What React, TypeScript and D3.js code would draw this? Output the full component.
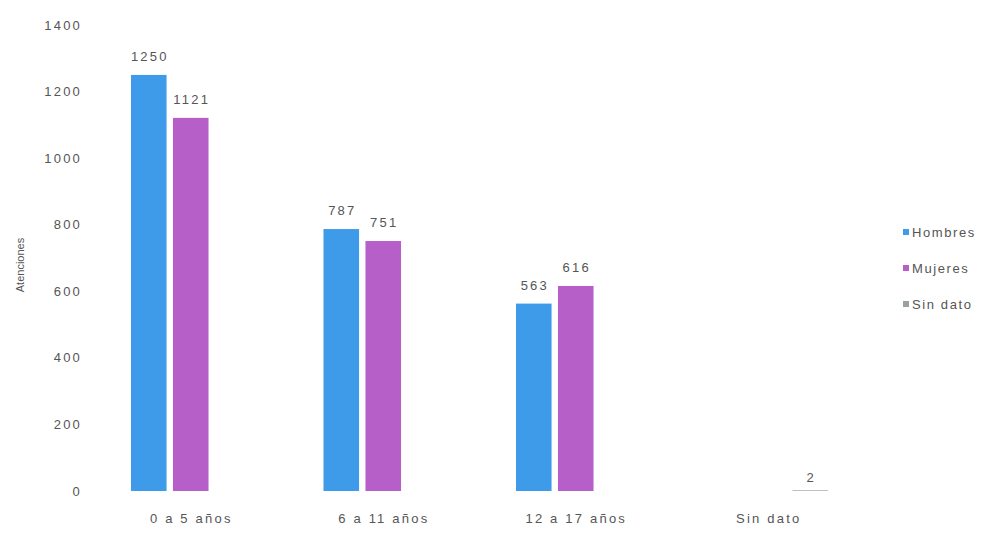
import * as d3 from "d3";

const categories = ["0 a 5 años", "6 a 11 años", "12 a 17 años", "Sin dato"];
const seriesNames = ["Hombres", "Mujeres", "Sin dato"];
const hombres = [1250, 787, 563, 0];
const mujeres = [1121, 751, 616, 0];
const sinDato = [0, 0, 0, 2];
const yTicks = [0, 200, 400, 600, 800, 1000, 1200, 1400];
const seriesColors = ["#3d9be9", "#b65fc9", "#9aa39a"];

const width = 1004;
const height = 536;
const margin = { top: 25, right: 140, bottom: 45, left: 94 };
const font = "'Liberation Sans', Arial, sans-serif";
const textColor = "#555";
const spacing = "2.2px";

export default function App() {
  const values = [hombres, mujeres, sinDato];

  const x = d3
    .scaleBand()
    .domain(categories)
    .range([margin.left, width - margin.right])
    .padding(0);

  const xInner = d3
    .scaleBand()
    .domain(seriesNames)
    .range([37, x.bandwidth() - 36])
    .paddingInner(0.153)
    .paddingOuter(0);

  const y = d3
    .scaleLinear()
    .domain([0, 1400])
    .range([height - margin.bottom, margin.top]);

  const bars = categories.flatMap((cat, ci) =>
    seriesNames.map((s, si) => ({
      cat,
      series: s,
      value: values[si][ci],
      color: seriesColors[si],
    })),
  );

  return (
    <svg
      width={width}
      height={height}
      style={{ position: "absolute", left: 0, top: 0, background: "#fff" }}
      fontFamily={font}
    >
      {/* y axis labels */}
      <g>
        {yTicks.map((t) => (
          <text
            key={t}
            x={82}
            y={y(t)}
            dy="0.35em"
            textAnchor="end"
            fontSize={13}
            letterSpacing={spacing}
            fill={textColor}
          >
            {t}
          </text>
        ))}
      </g>
      <text
        transform={`translate(24,265) rotate(-90)`}
        textAnchor="middle"
        fontSize={11}
        fill={textColor}
      >
        Atenciones
      </text>

      {/* bars */}
      <g>
        {bars.map((d) => {
          const bx = (x(d.cat) ?? 0) + (xInner(d.series) ?? 0);
          return (
            <g key={`${d.cat}-${d.series}`}>
              {d.value > 0 && (
                <rect
                  x={bx}
                  y={y(d.value)}
                  width={xInner.bandwidth()}
                  height={y(0) - y(d.value)}
                  fill={d.color}
                />
              )}
              {d.value > 0 && (
                <text
                  x={bx + xInner.bandwidth() / 2 + 1}
                  y={y(d.value) - (d.value < 50 ? 8 : 14)}
                  textAnchor="middle"
                  fontSize={13}
                  letterSpacing={spacing}
                  fill={textColor}
                >
                  {d.value}
                </text>
              )}
            </g>
          );
        })}
      </g>

      {/* x axis labels */}
      <g>
        {categories.map((c) => (
          <text
            key={c}
            x={(x(c) ?? 0) + x.bandwidth() / 2 + 1}
            y={y(0) + 32}
            textAnchor="middle"
            fontSize={13}
            letterSpacing={spacing}
            fill={textColor}
          >
            {c}
          </text>
        ))}
      </g>

      {/* legend */}
      <g>
        {seriesNames.map((s, i) => (
          <g key={s} transform={`translate(903,${232 + i * 36})`}>
            <rect x={0} y={-3} width={6} height={6} fill={seriesColors[i]} />
            <text
              x={9}
              y={0}
              dy="0.35em"
              fontSize={13}
              letterSpacing="1.6px"
              fill={textColor}
            >
              {s}
            </text>
          </g>
        ))}
      </g>
    </svg>
  );
}
